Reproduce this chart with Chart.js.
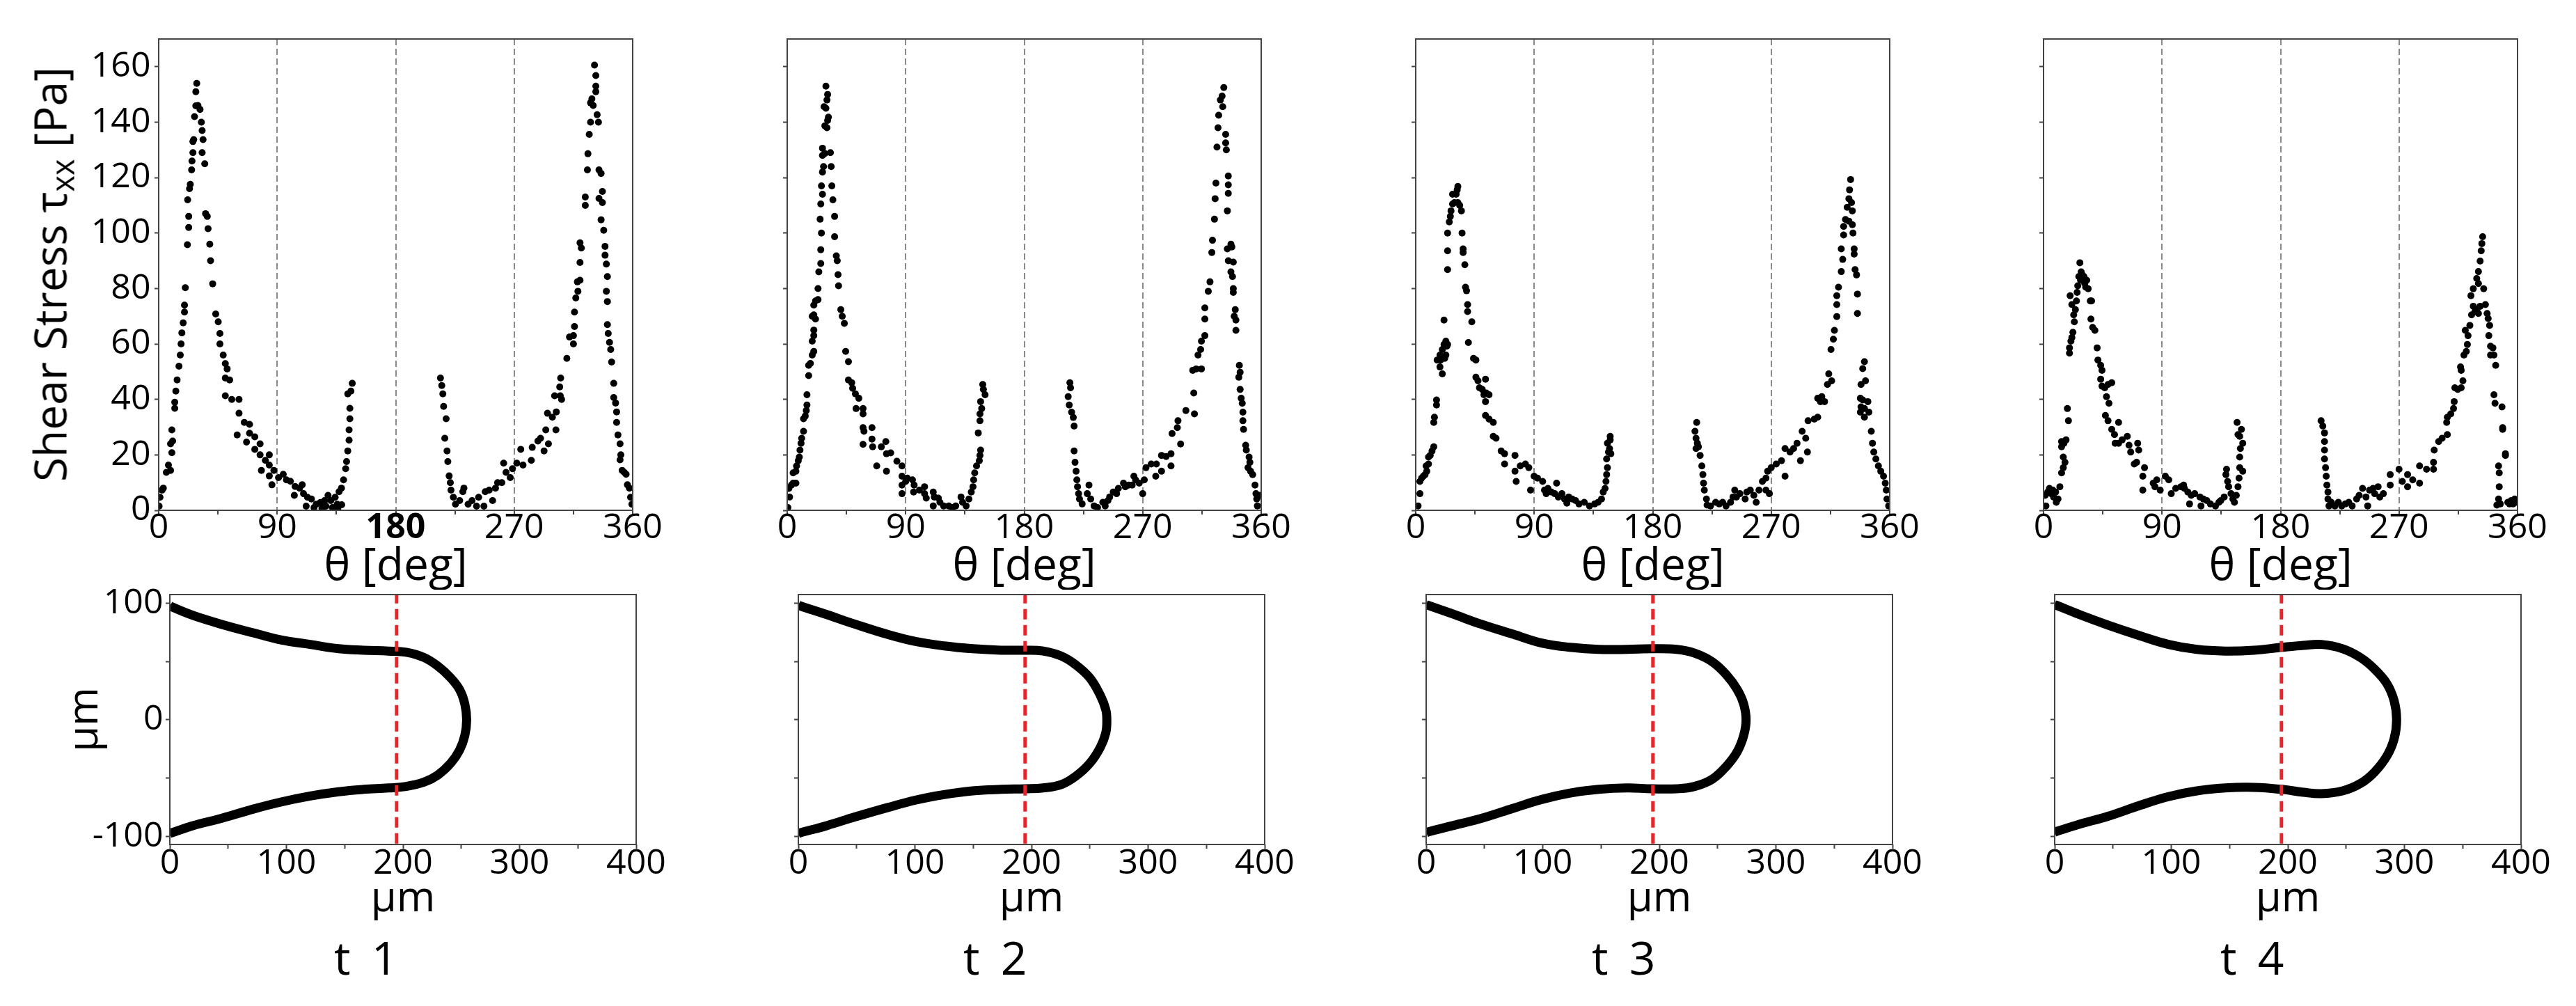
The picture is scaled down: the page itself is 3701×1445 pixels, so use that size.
<!DOCTYPE html>
<html><head><meta charset="utf-8">
<script src="https://cdn.jsdelivr.net/npm/chart.js@4/dist/chart.umd.min.js"></script>
<style>
html,body{margin:0;padding:0;background:#fff;}
body{width:3701px;height:1445px;position:relative;overflow:hidden;}
canvas{position:absolute;}
.lbl{position:absolute;color:#000;white-space:pre;font-family:'Open Sans',sans-serif;}
</style></head><body>
<script>
// ---------- DATA ----------
const panelLabels = ['t  1','t  2','t  3','t  4'];
const stressTitle = 'Shear Stress';
const thetaTitle = 'θ [deg]';
const umTitle = 'µm';
const redLineX = 194.5;

// shear stress tau_xx [Pa] vs theta [deg]  (pairs: [theta, stress])
const stressT1 = [[0.3,1.5],[1,4.7],[2.6,7.3],[3.5,8],[5.8,13.7],[9,14.4],[7.4,16.3],[9,24],[10,29],[10.6,25],[10,20.8],[12.2,36.8],[12.2,39],[13,43],[14,47],[15.4,52],[16.4,56],[17,60],[17.6,64],[18.6,67.6],[19.6,71.5],[19.6,74],[20.2,80.3],[21.8,95.8],[22.8,102],[22.8,106],[22,112],[23.4,116],[24,117.6],[25,122.8],[25.3,126],[26,129],[26,133],[26.6,133.7],[27.2,142],[28.2,145.9],[28.2,151],[28.9,154],[29.8,146],[31.4,144.6],[32.4,140],[33,137],[33.7,133.7],[33,129],[35,125],[35.6,107],[36.9,106],[37.5,101.6],[38.8,96],[39.4,90],[41,81.7],[43.3,70.8],[45.2,68],[46.5,63.8],[46.5,60],[49,56],[50.6,52.9],[52,51],[50.6,47.7],[53.9,47],[50.6,41.3],[55.5,40],[61,40],[61,35],[65,31.7],[69,31],[66.7,24.6],[69,27.8],[59.6,27.2],[73,26.5],[73,22],[77,24],[77,20],[81,18],[84,20],[78,14.4],[84,12.4],[84,16.3],[87.5,14.4],[86,9.2],[91,11.8],[94.6,13],[97,11],[100,10.5],[103.6,8.6],[107,8],[109,9.2],[103,5.4],[110,6],[113,4.7],[116,4.1],[119.6,2.2],[122.8,2.8],[126,3.5],[128.6,5.4],[130.8,3.5],[134,4.7],[135.6,2.2],[137,6.7],[138.8,8],[140.4,11],[142,15],[142.7,17.6],[143.6,21.4],[144.6,25.3],[144.6,29],[145.2,33],[145.2,36.8],[143.6,42],[146,43],[147,45.8],[112,1.5],[118,1],[124,0.8],[127,1.5],[132,1],[136,0.6],[139,2],
[214,47.7],[215,45],[215.8,42],[216.4,37.5],[218.3,33],[217.3,26],[219,21.4],[219.6,17.6],[220.6,12.4],[221.5,10],[222,7.3],[223.8,4.7],[225.4,2.2],[228.6,3.5],[231,6.7],[231.8,8],[235,2.2],[238,3.5],[241.4,1.5],[243,4.7],[247,1.5],[248,6.7],[251,7.3],[253.6,3.5],[255.8,8],[257.4,10],[260.6,10],[262,17],[263.8,13.7],[267,11.8],[268.7,15],[272,17],[275,22],[276.7,16.3],[283,18],[283.7,22.7],[288,25],[290,26],[292.7,21.4],[294,29],[296,24],[295.3,35],[299,33.6],[301.7,29],[302,35.5],[300.7,41.3],[305,41.3],[306,40],[305.3,47.7],[304.6,44.5],[310,54.8],[312,62.5],[315,63],[315,60],[315.8,66.3],[315.8,71.5],[316.8,76.6],[318.4,79],[318,82.4],[320,83],[320,89.4],[321,94.6],[320,96.5],[324,110],[324,113],[325.6,122.8],[326,128.6],[327,135.6],[328,140],[328,147],[329,148.4],[330,146],[331,160.6],[332,156.8],[332,153],[332,151],[333,142.7],[334,140],[334.4,122.8],[336,121.5],[334.4,112.5],[337,115],[337,111],[336,104.8],[338,101],[339,95.2],[339,92],[340,88.8],[340.8,84.3],[340,79],[340.8,75.3],[340.8,67],[341.4,63.8],[342.4,60.6],[343.3,58],[344,53.5],[345.6,45.8],[345.6,40.7],[347,38.7],[347.8,35.5],[347.8,31.7],[348.8,27.2],[350.4,24],[351,20],[350.4,18.2],[352,14.4],[353.6,13.7],[355,13],[356,9.2],[357.5,8],[358.4,4.7],[359.4,2.2]];

const stressT2 = [[0.5,1],[1.8,4.8],[1.3,7.9],[3.2,9.1],[4.5,9.8],[6.6,9.8],[4.5,13.5],[6.6,14.1],[7.1,16],[8.4,17.9],[9.2,19.2],[9.7,21.7],[10.5,24.2],[11,26],[12.4,28.5],[12.4,33],[13.7,34],[14.5,36],[15,38],[15,41.7],[16.3,48.6],[16.3,52.3],[17.6,53],[19,56],[20.2,57.3],[19,61],[20.2,63],[20.2,65],[19,70],[20.2,70.5],[21.5,69],[20.2,74],[21.5,75.5],[23.4,76],[23.4,80],[24,86],[25.5,89],[25.5,94],[26,100],[25,105],[25.5,110.5],[26.8,114],[26,117],[26.8,122],[27.6,124],[26.8,128],[26.8,130.6],[28.6,128.7],[28.6,138.7],[30.2,138],[30.7,140.6],[31.3,141.8],[29.4,145],[28,145.6],[30.2,148],[30.7,150],[29.4,153],[32.8,129],[33.4,124],[33.9,117],[34.7,112],[36,106],[36,98.7],[37.3,91.8],[38,90],[38.6,85],[39,81],[40.7,72.4],[41.8,70],[43.4,67.4],[44.4,57.3],[46.5,53.6],[46.5,47],[49,46],[49.7,44],[51.8,42],[54.4,40.4],[52.3,36.7],[57.6,36.7],[57.6,34.8],[57.6,29.8],[58.3,28.5],[57.6,23.8],[64.4,29.8],[64.4,25.7],[64.9,22.9],[68,16],[71.5,22.9],[74.9,24.8],[75.4,20.4],[75.4,14.1],[78.6,20.7],[83.3,17.7],[87.2,16],[87.2,12.3],[87.2,9.1],[87.2,6],[90,10.4],[91.2,11.6],[95.1,11],[96.4,9.1],[96,6.6],[100.4,7.3],[104.3,8.5],[104.3,6],[105.6,4.4],[110.9,6.6],[111.7,4.8],[114.8,4.4],[110.9,1.6],[116,2.9],[118.8,1.6],[122.7,1.6],[125.4,1],[128,1.6],[132,4.8],[133.2,2.9],[135.9,1.6],[138,4.1],[139.8,6.6],[141.1,8.5],[141.6,11],[142.4,13.5],[143.8,16],[145.9,17.9],[146.4,19.8],[146.9,21.7],[145.1,27.9],[146.4,32.3],[146.4,34.8],[147.7,36.7],[146.9,39.2],[149,43.6],[148.5,45.4],[150.3,41.7],
[214.7,46],[215.2,44.2],[213.4,41],[214.2,38],[216,35.4],[217.3,33.5],[217.9,30.4],[217.9,21.4],[218.6,17.3],[219.4,14.1],[220,11],[220.5,8.5],[221.3,6],[222,4.1],[224,2.3],[229.2,9.1],[227.9,6],[230.5,4.1],[233.1,1.6],[235.7,1],[239.7,2.9],[241.5,1.6],[243.6,3.5],[244.9,4.8],[247.6,6.6],[250.2,6],[251.5,7.9],[255.4,9.8],[256.8,8.5],[259.4,9.1],[262,9.1],[263.3,12.3],[264.6,11],[267.3,9.8],[270,6],[271.2,11],[272.5,15.4],[276.5,16.7],[280.4,16.7],[279.9,12.3],[284.3,19.8],[284.3,14.1],[287.8,19.4],[291.5,16],[291.5,20.4],[292.3,27.7],[296.3,29.8],[296.8,32.3],[298.8,23.9],[302.8,36],[309.3,34.8],[308.8,42.3],[308,50.5],[310.6,51],[314.6,51],[312,56],[314.6,61],[314,58],[317.2,63],[317.2,69],[317.2,73],[319.8,79],[321.1,82.4],[322.5,93],[323,97.4],[324.5,105],[325,112.4],[325.6,118],[326.4,131],[327.2,138],[327.7,142.5],[329,148],[330.3,149.4],[331.6,152.5],[330.8,145.6],[333,135.6],[333,132.5],[333.5,130],[335,120.6],[335,117.4],[335,114.3],[334.3,108],[337,96],[337.7,95],[334.3,94.3],[335,90],[338.8,89.5],[338.2,84.3],[337,86],[338.8,80],[338.8,78.6],[340.3,72.4],[339.5,70],[340.8,68.6],[340.8,64.9],[343.4,52.3],[344,49.8],[343,48],[344,43.6],[344.8,40.4],[345.6,38.6],[346.1,35.4],[346.1,32.3],[346.6,29.2],[348.2,23.5],[348.7,21.7],[350.8,19.2],[351.4,17.3],[350,15.4],[351.9,14.1],[353.5,12.9],[355.3,9.1],[356,6],[356.6,4.1],[357.1,1.6],[359.2,5.4]];

const stressT3 = [[1.8,1.6],[3.2,6],[3.2,10.4],[4.5,11.6],[5.8,12.3],[7.1,12.9],[8.4,14.1],[7.9,16],[9.7,16.7],[9.7,19.2],[11,19.8],[12.4,21.4],[13.7,22.9],[13.7,31.7],[14.2,33.6],[15.8,38],[15.8,39.8],[16.3,54.2],[18.4,51.7],[18.9,54.2],[18.4,56],[20.2,49.2],[20.2,58],[21.5,59.8],[22,54.8],[22.9,56],[22.9,61],[23.6,59.2],[24.2,59.8],[21.5,68.6],[24.2,86.8],[24.2,93.6],[24.2,100],[25.5,104],[26.3,106],[26.8,108],[28,110.5],[28,114],[29.4,111],[30.7,114],[31.5,115.6],[32,116.8],[32,111],[33.4,110],[34.7,108],[35.2,100],[36,94.3],[36,93],[37.3,88.6],[37.8,80.5],[38.6,79.2],[39.4,74.2],[39.4,71.7],[40,60.5],[42.6,68],[43.9,54.8],[45.7,54.2],[45.7,48],[47.3,46.7],[48.4,44.2],[50.5,43.6],[53,47.3],[51.8,41.7],[53.6,42.3],[55.7,41.7],[53,39.2],[53,34.2],[55.7,32.9],[58.9,31.7],[58.9,26.7],[61,26],[64.9,21.4],[67.5,20.4],[67.5,16.7],[75.4,19.8],[75.4,14.1],[76.3,10.4],[79.4,16],[83.3,16.7],[85.9,15.4],[87.2,7.3],[89.9,12.3],[92.5,11.6],[96.4,10.4],[97.8,7.3],[99.1,6],[100.4,7.9],[103,6.6],[105.6,6],[107,9.8],[108.3,4.8],[111,6],[113,4.1],[114.8,2.6],[116.2,4.8],[118.8,4.1],[121.4,3.5],[124,2.3],[128,2.9],[132,1.6],[135.9,2.3],[138.5,2.9],[141.1,4.1],[142.4,6.6],[143.8,7.9],[144.5,10.4],[145,12.9],[145.6,15.4],[145,18.5],[146.4,21],[147.2,22.3],[145.6,24.2],[147.7,25.4],[148.2,20.4],[147.7,26.7],
[213.4,31.7],[212.1,28.5],[212.9,26],[213.9,24.2],[214.7,22.9],[212.9,22.3],[216,19.8],[217.3,16],[218.1,12.9],[218.6,9.8],[219.2,7.3],[220.8,4.1],[221.3,1.9],[223.9,1.6],[227.8,2.9],[230.5,2.3],[233.1,2.9],[235.7,1.6],[239.1,2.9],[241,4.8],[242.3,7.3],[243.6,4.8],[246.2,6],[250.2,4.1],[251.5,6.6],[254.1,7.3],[256.8,5.4],[258.6,2.9],[260.7,7.3],[263.3,10.4],[266,7.3],[266,11.6],[267.3,14.1],[268.6,6],[270,15.4],[273.8,16.7],[277.8,17.9],[280.5,12.3],[280.5,22.3],[284.3,21],[287,22.3],[289.6,24.2],[292.2,17.9],[293.5,28.5],[296.2,26],[297.5,21],[298,32.3],[302.7,32.9],[305.3,33.6],[305.3,40.4],[307.4,39.2],[308.4,41],[310.5,39.2],[312.7,45.4],[313.7,49.2],[315.9,46.7],[315.4,58],[317.2,61.7],[318,64.9],[319.8,69.9],[319.8,74.2],[319.8,77.4],[321.1,80.5],[323.2,86.1],[324.3,90.5],[323.2,94.3],[325,99.3],[325,102.4],[326.4,104.9],[327.7,109.3],[329,112.4],[329.5,115.6],[330.3,119.3],[329,104.3],[331,111],[331.6,108],[331.6,103],[332.1,100],[333,94.3],[333,92.4],[333.7,86.8],[334.8,84.9],[335.5,78],[335.5,71],[340.8,53.6],[339.5,51.1],[338.2,45.4],[341.6,46.7],[337.7,40.4],[339.5,39.8],[338.2,37.3],[340.8,36.7],[337.7,35.4],[343.4,39.2],[340.8,33.6],[344.2,35.4],[346,28.5],[346.9,24.2],[347.9,21],[349.5,18.5],[351.4,16],[353.2,14.1],[355.3,12.3],[356.6,9.8],[357.4,7.3],[357.9,4.1],[359.2,1.6]];

const stressT4 = [[1.3,5.4],[1.8,1.6],[3.2,6.6],[4.5,7.9],[5.8,6],[7.1,7.3],[7.6,4.8],[9.2,6.6],[9.7,2.9],[11,4.1],[12.4,8.5],[13.7,13.5],[15,15.4],[16.3,17.3],[15,19.2],[13.7,22.9],[13.7,24.8],[15.5,24.2],[17.1,25.4],[18.1,36.7],[18.9,32.3],[19.7,56.7],[19.7,58.6],[20.8,61],[21.5,62.3],[22.3,64.2],[20.2,77.4],[21.5,74.2],[22.9,70.5],[23.4,68],[24.2,72.4],[25,75.5],[25.5,78.6],[26,81],[26.8,84.3],[28.1,83],[27.6,89.3],[28.6,86],[29.4,85],[30.7,84.3],[31.3,81.8],[32,80.5],[32.8,83],[33.9,79.9],[35.5,75.5],[36.5,75.5],[36,69],[37.3,66],[39,64.9],[40.7,58.6],[41.3,54.2],[43.4,52.3],[44.4,50.5],[43.4,47.3],[44.4,44.8],[46.5,44.2],[49,45.4],[51.8,46],[47.8,41],[49.7,38.6],[47,34.2],[49,32.3],[51.8,29.2],[53.9,27.3],[57,31.7],[54.4,24.2],[59.7,25.4],[63.6,26.7],[64.9,23.5],[57,24.2],[66.2,21],[71.5,24.2],[72.3,21.7],[70.7,17.3],[68.9,16.7],[76.7,15.4],[75.4,12.3],[75.4,7.3],[83.3,9.8],[86,11],[84.6,8.5],[88.6,7.3],[92.5,12.3],[95.1,11],[97,6],[100.4,7.9],[104.3,8.5],[106.4,9.1],[107,7.9],[109.6,6.6],[110.9,2.3],[112.2,5.4],[114.8,6],[118.8,4.8],[119.6,1.6],[121.4,4.1],[124,3.5],[126.7,2.3],[130.6,1.6],[133.2,2.9],[134.6,3.5],[137.2,4.8],[138.5,12.9],[139,14.8],[139.8,10.4],[140.6,8.5],[142.4,6],[143.8,4.1],[145,2.9],[146.4,5.4],[147.7,8.5],[148.5,11.6],[149,15.4],[149,19.2],[149.5,22.3],[149,26.7],[150.3,29.2],[147,31.7],[147.7,27.3],[151.3,24.2],[151.3,14.1],
[210.8,32.3],[212.1,30.4],[213.4,27.9],[213.4,24.8],[213.4,21.7],[213.4,18.5],[214.2,15.4],[214.7,12.3],[215.2,9.1],[216,6.6],[216,4.1],[216.8,1.6],[218.6,2.9],[221.3,1.6],[223.9,2.9],[226.5,1.6],[229.2,2.3],[231.8,2.9],[234.4,1.6],[237.8,4.1],[239.7,5.4],[242.3,7.9],[244.9,4.8],[246.2,1.6],[247.6,7.3],[250.2,7.9],[251.5,6],[254.1,8.5],[255.4,4.8],[258.1,6],[263.3,12.9],[263.3,9.1],[270,14.8],[272.5,10.4],[276.5,8.5],[276.5,12.9],[280.4,11],[285.6,16],[285.6,9.8],[290.9,14.8],[296.2,14.8],[296.2,17.3],[296.7,21.7],[300.1,24.8],[302.7,26],[306.7,27.3],[306.2,31.7],[306.7,33.6],[309.3,34.8],[311.4,36.7],[311.9,39.2],[312.4,44.2],[314.6,43.6],[317.2,44.2],[318.5,46.7],[316.7,51.7],[317.2,50.5],[319.3,56],[321.1,57.3],[320.3,64.9],[322.4,63],[321.9,59.8],[323.8,66.7],[325.1,70.5],[326.4,73.6],[327.7,71.7],[329,72.4],[330.3,71],[331.6,73.6],[324.6,77.4],[326.4,79.9],[329,83.6],[330.3,81.8],[330.3,86.1],[331.6,89.9],[332.4,93.6],[333.5,98.7],[332.9,96.2],[334.3,79.9],[335.6,74.2],[336.9,71],[337.7,69.2],[338.8,66.7],[338.2,63],[339.5,59.2],[339.5,56],[341.3,58.6],[342.1,56],[343.4,52.3],[342.1,41.7],[342.9,38.6],[348.2,37.3],[348.7,29.8],[348.7,29.2],[350.8,20.4],[350.8,19.8],[345.6,16],[346.1,13.5],[346.1,8.5],[345.6,4.1],[344.3,1.9],[346.9,2.3],[352.6,2.9],[353.9,2.3],[355.2,3.5],[356.6,2.3],[357.8,4.1],[358.6,2.9]];

// contour outlines [x µm, y µm]
const shapeT1 = [[0,98],[1.5,97],[19.8,89.6],[44.2,82],[71.6,74.6],[96,68.4],[120.4,64.7],[144.8,61],[166,59.7],[187.5,59],[202.7,58],[218,53.5],[230,46],[240.9,36],[248.5,26],[253,13.7],[254.6,0],[253,-13.7],[248.5,-26],[240.9,-37.3],[230,-47.3],[218,-53.5],[202.7,-57.2],[187.5,-58.5],[166,-59.7],[144.8,-61.7],[120.4,-65.4],[96,-70.4],[71.6,-76.6],[44.2,-84.6],[19.8,-90.8],[1.5,-97],[0,-97.5]];
const shapeT2 = [[0,98.5],[1.5,97.8],[24.4,90.3],[48.8,82],[76.2,73.4],[100.6,67.2],[125,63.4],[149.4,61],[173.8,59.7],[195,59.7],[210,59],[225.6,54.7],[237.8,47.3],[250,36],[259,21],[263.7,8.7],[264.6,0],[263.7,-11.2],[259,-23.6],[250,-37.3],[237.8,-48.5],[225.6,-55.5],[210,-58.5],[195,-59.2],[173.8,-59.7],[149.4,-61],[125,-64.2],[100.6,-68.9],[76.2,-75.4],[48.8,-83.3],[24.4,-90.8],[1.5,-97],[0,-97.5]];
const shapeT3 = [[0,98.8],[1.5,98.3],[22.9,90.8],[47.3,82],[74.7,73.4],[99,65.9],[123.5,62.2],[147.9,60.4],[172.2,60.4],[193.6,61],[214.9,60.4],[230.2,57.2],[245.4,49.8],[257.6,38.6],[266.8,26],[272.3,13.7],[274.4,0],[272.3,-13.7],[266.8,-27.4],[257.6,-39.8],[245.4,-51],[230.2,-57.2],[214.9,-59.2],[193.6,-59.2],[172.2,-58.5],[147.9,-59.7],[123.5,-62.9],[99,-68.4],[74.7,-75.9],[47.3,-84.6],[22.9,-90.8],[1.5,-96.3],[0,-97]];
const shapeT4 = [[0,98.8],[1.5,98.3],[21.3,90.3],[45.7,81.3],[73.2,72.1],[97.6,64.7],[122,60.4],[146.3,59],[170.7,59.7],[195,62.2],[213.4,63.9],[228.7,64.7],[247,61],[262.2,53.5],[274.4,43.5],[285,31],[291.2,16.2],[293.3,0],[291.2,-16.2],[285,-31],[274.4,-44.8],[262.2,-54.7],[247,-61],[228.7,-63.4],[213.4,-62.2],[195,-59.7],[170.7,-58],[146.3,-58.5],[122,-61],[97.6,-65.9],[73.2,-73.4],[45.7,-82.8],[21.3,-89.6],[1.5,-95.8],[0,-96.3]];

const stressSets = [stressT1, stressT2, stressT3, stressT4];
const shapeSets = [shapeT1, shapeT2, shapeT3, shapeT4];
const thetaRefLines = [90, 180, 270];

// ---------- LAYOUT ----------
const FAM = "'Open Sans', sans-serif";
const TOP_LEFTS = [228, 1131, 2034, 2936];
const BOT_LEFTS = [244, 1147, 2049, 2952];
const EDGE = '#444444';
const TICKFONT = {family: FAM, size: 50, lineHeight: 1};

const framePlugin = {
  id: 'frame',
  afterDatasetsDraw(chart) {
    const {ctx, chartArea: a} = chart;
    ctx.save();
    ctx.strokeStyle = EDGE; ctx.lineWidth = 2;
    ctx.strokeRect(a.left, a.top, a.right - a.left, a.bottom - a.top);
    ctx.restore();
  }
};

function mkCanvas(left, top, w, h) {
  const c = document.createElement('canvas');
  c.width = w; c.height = h;
  c.style.left = left + 'px'; c.style.top = top + 'px';
  c.style.width = w + 'px'; c.style.height = h + 'px';
  document.body.appendChild(c);
  return c;
}

function makeTop(i) {
  const AXW = 130, PADT = 40, PADR = 60, AXH = 114, PW = 681, PH = 677;
  const c = mkCanvas(TOP_LEFTS[i] - AXW, 56 - PADT, AXW + PW + PADR, PADT + PH + AXH);
  new Chart(c, {
    type: 'scatter',
    data: {datasets: [{
      data: stressSets[i].map(p => ({x: p[0], y: p[1]})),
      pointRadius: 5, pointBackgroundColor: '#000', pointBorderWidth: 0, clip: 0
    }]},
    options: {
      responsive: false, animation: false, devicePixelRatio: 1, events: [],
      layout: {padding: {top: PADT, right: PADR, left: 0, bottom: 0}, autoPadding: false},
      plugins: {legend: {display: false}, tooltip: {enabled: false}},
      scales: {
        x: {
          type: 'linear', min: 0, max: 360,
          afterFit: s => { s.height = AXH; },
          ticks: {stepSize: 45, autoSkip: false, maxRotation: 0, minRotation: 0, padding: -5, color: '#000',
            font: ctx => Object.assign({}, TICKFONT, {weight: (i === 0 && ctx.tick && ctx.tick.value === 180) ? 'bold' : 'normal'}),
            callback: v => (v % 90 === 0 ? String(v) : '')},
          grid: {color: ctx => (ctx.tick && thetaRefLines.includes(ctx.tick.value)) ? '#8a8a8a' : 'rgba(0,0,0,0)',
            lineWidth: 2, drawTicks: true, tickLength: 6, tickColor: EDGE, tickWidth: 2},
          border: {display: false, dash: [9, 5]},
          title: {display: true, text: thetaTitle, color: '#000', font: {family: FAM, size: 64, lineHeight: 1}, padding: {top: 0, bottom: 0}}
        },
        y: {
          type: 'linear', min: 0, max: 170,
          afterFit: s => { s.width = AXW; },
          ticks: {stepSize: 20, includeBounds: false, autoSkip: false, padding: 5.5, color: '#000', display: i === 0,
            font: TICKFONT},
          grid: {color: 'rgba(0,0,0,0)', drawTicks: true, tickLength: 6, tickColor: EDGE, tickWidth: 2},
          border: {display: false}
        }
      }
    },
    plugins: [framePlugin]
  });
}

function makeBottom(i) {
  const AXW = 151, PADT = 40, PADR = 60, AXH = 109, PW = 670, PH = 359;
  const c = mkCanvas(BOT_LEFTS[i] - AXW, 854 - PADT, AXW + PW + PADR, PADT + PH + AXH);
  new Chart(c, {
    type: 'line',
    data: {datasets: [
      {data: [{x: redLineX, y: -120}, {x: redLineX, y: 120}], borderColor: '#e8262a', borderWidth: 5,
       borderDash: [15, 8], pointRadius: 0, fill: false, clip: 0, order: 0},
      {data: shapeSets[i].map(p => ({x: p[0], y: p[1]})), borderColor: '#000', borderWidth: 13,
       pointRadius: 0, tension: 0.4, fill: false, clip: 0, order: 1, borderCapStyle: 'butt'}
    ]},
    options: {
      responsive: false, animation: false, devicePixelRatio: 1, events: [],
      layout: {padding: {top: PADT, right: PADR, left: 0, bottom: 0}, autoPadding: false},
      plugins: {legend: {display: false}, tooltip: {enabled: false}},
      scales: {
        x: {
          type: 'linear', min: 0, max: 400,
          afterFit: s => { s.height = AXH; },
          ticks: {stepSize: 50, autoSkip: false, maxRotation: 0, minRotation: 0, padding: -3, color: '#000',
            font: TICKFONT, callback: v => (v % 100 === 0 ? String(v) : '')},
          grid: {color: 'rgba(0,0,0,0)', drawTicks: true, tickLength: 6, tickColor: EDGE, tickWidth: 2},
          border: {display: false},
          title: {display: true, text: umTitle, color: '#000', font: {family: FAM, size: 60, lineHeight: 1}, padding: {top: 0, bottom: 0}}
        },
        y: {
          type: 'linear', min: -107, max: 107.5,
          afterFit: s => { s.width = AXW; },
          ticks: {stepSize: 50, includeBounds: false, autoSkip: false, padding: 3.5, color: '#000', display: i === 0,
            font: TICKFONT, callback: v => (v % 100 === 0 ? String(v) : '')},
          grid: {color: 'rgba(0,0,0,0)', drawTicks: true, tickLength: 6, tickColor: EDGE, tickWidth: 2},
          border: {display: false},
          title: {display: i === 0, text: umTitle, color: '#000', font: {family: FAM, size: 60, lineHeight: 1}, padding: {top: 0, bottom: 0}}
        }
      }
    },
    plugins: [framePlugin]
  });
}

for (let i = 0; i < 4; i++) { makeTop(i); makeBottom(i); }

// y title of first stress panel (with subscript)
const yl = document.createElement('div');
yl.className = 'lbl';
yl.style.cssText += 'left:74.5px;top:394px;font-size:64px;line-height:64px;transform:translate(-50%,-50%) rotate(-90deg);';
yl.innerHTML = stressTitle + ' τ<span style="font-size:0.7em;position:relative;top:0.25em">xx</span> [Pa]';
document.body.appendChild(yl);

// panel labels
const tLefts = [480, 1384, 2287, 3190];
panelLabels.forEach((t, i) => {
  const d = document.createElement('div');
  d.className = 'lbl';
  d.style.cssText += `left:${tLefts[i]}px;top:1341px;font-size:66px;line-height:66px;word-spacing:-2px;`;
  d.textContent = t;
  document.body.appendChild(d);
});
</script>
</body></html>
